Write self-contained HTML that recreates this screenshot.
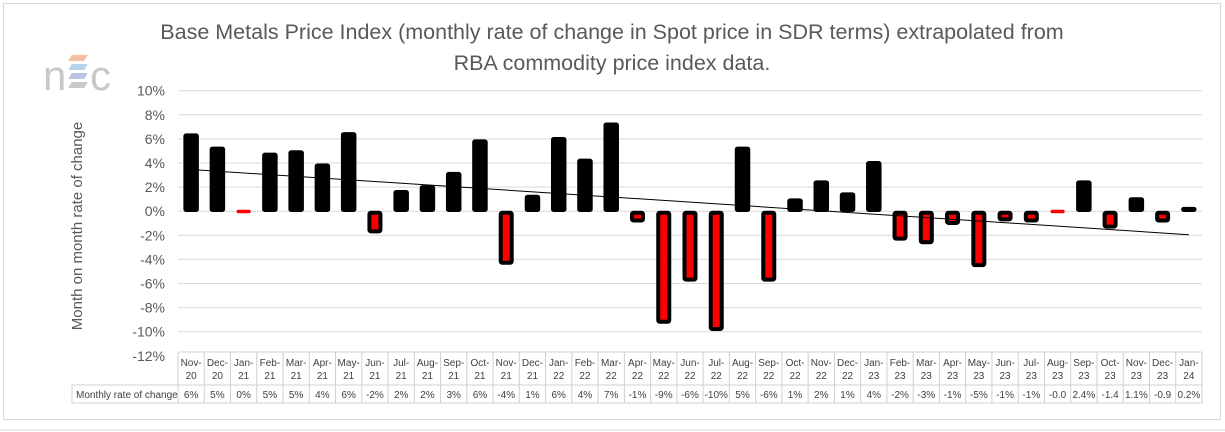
<!DOCTYPE html>
<html><head><meta charset="utf-8"><style>
body{margin:0;background:#fff;}
svg{display:block;font-family:"Liberation Sans",sans-serif;}
</style></head><body>
<svg id="chart" width="1225" height="432" viewBox="0 0 1225 432">
<rect x="3.5" y="3.5" width="1217" height="416" fill="#fff" stroke="#d9d9d9"/>
<line x1="0" y1="430" x2="1225" y2="430" stroke="#d9d9d9"/>
<text x="612" y="39" text-anchor="middle" font-size="21.5" fill="#595959">Base Metals Price Index (monthly rate of change in Spot price in SDR terms) extrapolated from</text>
<text x="612" y="70" text-anchor="middle" font-size="21.5" fill="#595959">RBA commodity price index data.</text>
<g>
<text x="43" y="90" font-size="42" fill="#c8c8c8" letter-spacing="-2">n</text>
<rect x="70" y="55" width="16" height="6" fill="#f0c0a0" transform="skewX(-30)" transform-origin="78 58"/>
<rect x="70" y="64" width="16" height="6" fill="#b8d4e8" transform="skewX(-30)" transform-origin="78 67"/>
<rect x="70" y="73" width="16" height="6" fill="#b8c4e0" transform="skewX(-30)" transform-origin="78 76"/>
<rect x="70" y="82" width="16" height="6" fill="#c8c8c8" transform="skewX(-30)" transform-origin="78 85"/>
<text x="90" y="90" font-size="42" fill="#c8c8c8">c</text>
</g>
<text transform="translate(82,226) rotate(-90)" text-anchor="middle" font-size="15" fill="#595959">Month on month rate of change</text>
<g id="grid"></g><g id="yticks"></g><g id="bars"></g><g id="trend"></g><g id="table"></g>
</svg>
<script>
const categories=["Nov-20","Dec-20","Jan-21","Feb-21","Mar-21","Apr-21","May-21","Jun-21","Jul-21","Aug-21","Sep-21","Oct-21","Nov-21","Dec-21","Jan-22","Feb-22","Mar-22","Apr-22","May-22","Jun-22","Jul-22","Aug-22","Sep-22","Oct-22","Nov-22","Dec-22","Jan-23","Feb-23","Mar-23","Apr-23","May-23","Jun-23","Jul-23","Aug-23","Sep-23","Oct-23","Nov-23","Dec-23","Jan-24"];
const values=[6.4,5.3,0.0,4.8,5.0,3.9,6.5,-1.8,1.7,2.1,3.2,5.9,-4.4,1.3,6.1,4.3,7.3,-0.9,-9.3,-5.8,-9.9,5.3,-5.8,1.0,2.5,1.5,4.1,-2.4,-2.7,-1.1,-4.6,-0.8,-0.9,-0.02,2.5,-1.4,1.1,-0.9,0.3];
const labels=["6%","5%","0%","5%","5%","4%","6%","-2%","2%","2%","3%","6%","-4%","1%","6%","4%","7%","-1%","-9%","-6%","-10%","5%","-6%","1%","2%","1%","4%","-2%","-3%","-1%","-5%","-1%","-1%","-0.0","2.4%","-1.4","1.1%","-0.9","0.2%"];
const yTicks=[10,8,6,4,2,0,-2,-4,-6,-8,-10,-12];
const NS="http://www.w3.org/2000/svg";
const X0=178,X1=1202,Ytop=90.7,PX=12.05;
const step=(X1-X0)/categories.length;
function y(v){return Ytop+(10-v)*PX;}
function xc(i){return X0+step*(i+0.5);}
function mk(tag,attrs,parent){const e=document.createElementNS(NS,tag);for(const k in attrs)e.setAttribute(k,attrs[k]);document.getElementById(parent).appendChild(e);return e;}
yTicks.forEach(t=>{
  if(t>-12){const g=mk('line',{x1:X0,x2:X1,y1:y(t),y2:y(t),stroke:'#d9d9d9','stroke-width':1},'grid');
  
  }
  const tx=mk('text',{x:165,y:y(t)+5,'text-anchor':'end','font-size':14,fill:'#595959'},'yticks');
  tx.textContent=t+'%';
  
  
});
values.forEach((v,i)=>{
  const w=14,cx=xc(i);
  let r;
  if(Math.abs(v)<0.15){
    r=mk('rect',{x:cx-w/2,y:y(0)-1.5,width:w,height:3.5,rx:1.5,fill:'#ff0000'},'bars');
  }else if(v>0){
    r=mk('rect',{x:cx-w/2,y:y(v),width:w,height:y(0)-y(v),rx:2,fill:'#000',stroke:'#000','stroke-width':1.5},'bars');
  }else{
    r=mk('rect',{x:cx-w/2+1.5,y:y(0)+1.5,width:w-3,height:Math.max(2,y(v)-y(0)-3),rx:1.5,fill:'#ff0000',stroke:'#000','stroke-width':4},'bars');
  }
  
  
});
const n=values.length;let sx=0,sy=0,sxy=0,sxx=0;
values.forEach((v,i)=>{sx+=i;sy+=v;sxy+=i*v;sxx+=i*i;});
const b=(n*sxy-sx*sy)/(n*sxx-sx*sx),a=(sy-b*sx)/n;
const tl=mk('line',{x1:xc(0),y1:y(a),x2:xc(n-1),y2:y(a+b*(n-1)),stroke:'#000','stroke-width':1},'trend');


const T0=352,T1=385,T2=403;
const box=mk('rect',{x:72,y:T1,width:X1-72,height:T2-T1,fill:'none',stroke:'#d0d0d0'},'table');


mk('line',{x1:X0,y1:T0,x2:X1,y2:T0,stroke:'#d0d0d0'},'table');
const lb=mk('text',{x:76,y:398,'font-size':10,fill:'#404040'},'table');
lb.textContent='Monthly rate of change';


for(let i=0;i<=n;i++){mk('line',{x1:X0+step*i,x2:X0+step*i,y1:T0,y2:T2,stroke:'#d0d0d0'},'table');}
categories.forEach((c,i)=>{
  const p=c.split('-');
  const t1=mk('text',{x:xc(i),y:366,'text-anchor':'middle','font-size':10,fill:'#404040'},'table');
  t1.textContent=p[0]+'-';
  
  
  const t2=mk('text',{x:xc(i),y:379,'text-anchor':'middle','font-size':10,fill:'#404040'},'table');
  t2.textContent=p[1];
  
  
  const t3=mk('text',{x:xc(i),y:398,'text-anchor':'middle','font-size':10,fill:'#404040'},'table');
  t3.textContent=labels[i];
  
  
});
</script>
</body></html>
